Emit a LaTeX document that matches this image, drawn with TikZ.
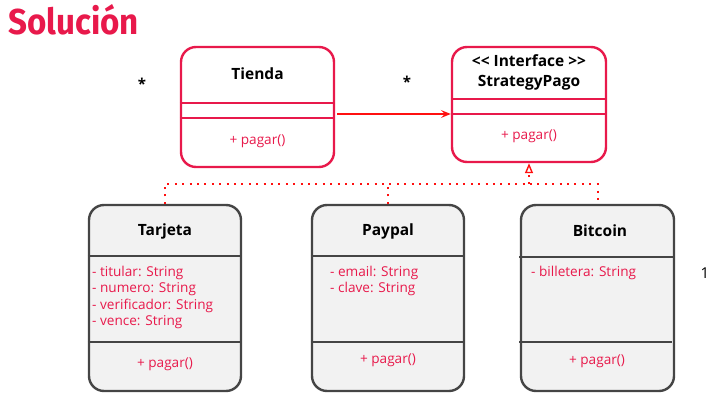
\documentclass[tikz,border=0pt]{standalone}
\usepackage{fontspec}
\usepackage{graphicx}
\setmainfont{Open Sans}
\newfontfamily\headfont{Fira Sans}
\usetikzlibrary{arrows.meta}
\definecolor{crimson}{HTML}{E8194B}
\definecolor{arrowred}{HTML}{FF1010}
\definecolor{boxgray}{HTML}{F2F2F2}
\definecolor{edgegray}{HTML}{454545}
\begin{document}
\begin{tikzpicture}[x=1pt,y=-1pt,
  redclass/.style={draw=crimson, line width=2.4pt, fill=white, rounded corners=15pt, inner sep=0pt},
  grayclass/.style={draw=edgegray, line width=2.4pt, fill=boxgray, rounded corners=15pt, inner sep=0pt},
  redsep/.style={draw=crimson, line width=1.6pt},
  graysep/.style={draw=edgegray, line width=1.6pt},
  classname/.style={font=\fontsize{15.5}{18}\selectfont\bfseries, text=black, inner sep=0pt},
  member/.style={font=\fontsize{13.6}{16.3}\selectfont, text=crimson, inner sep=0pt},
  memberlist/.style={member, anchor=north west, align=left},
  mult/.style={font=\fontsize{15}{16}\selectfont\bfseries, text=black, inner sep=0pt},
  dotline/.style={draw=arrowred, line width=2pt, dash pattern=on 2pt off 5.4pt},
]
\useasboundingbox (0,0) rectangle (720,399);

% heading
\node[anchor=west, inner sep=0pt, text=crimson] (heading) at (8,20)
  {\scalebox{0.92}[1]{\headfont\fontsize{36}{38}\selectfont\bfseries Solución}};

% context class and strategy interface
\node[redclass, minimum width=153pt, minimum height=120pt] (tienda) at (257.5,107) {};
\node[redclass, minimum width=154pt, minimum height=115pt] (strategy) at (529,104.5) {};

% concrete strategies
\node[grayclass, minimum width=152pt, minimum height=186pt] (tarjeta) at (165,298) {};
\node[grayclass, minimum width=152pt, minimum height=186pt] (paypal) at (388,298) {};
\node[grayclass, minimum width=153pt, minimum height=186pt] (bitcoin) at (597.5,298) {};

% compartments
\draw[redsep] (tienda.west |- 0,103) -- (tienda.east |- 0,103);
\draw[redsep] (tienda.west |- 0,118) -- (tienda.east |- 0,118);
\draw[redsep] (strategy.west |- 0,99) -- (strategy.east |- 0,99);
\draw[redsep] (strategy.west |- 0,114) -- (strategy.east |- 0,114);
\draw[graysep] (tarjeta.west |- 0,256) -- (tarjeta.east |- 0,256);
\draw[graysep] (tarjeta.west |- 0,342) -- (tarjeta.east |- 0,342);
\draw[graysep] (paypal.west |- 0,256) -- (paypal.east |- 0,256);
\draw[graysep] (paypal.west |- 0,342) -- (paypal.east |- 0,342);
\coordinate (bsepa) at (519,257);
\coordinate (bsepb) at (519,342);
\draw[graysep] (bsepa) -- (bitcoin.east |- bsepa);
\draw[graysep] (bsepb) -- ([xshift=-3pt]bitcoin.east |- bsepb);

% texts
\node[classname] (tiendaname) at (257.5,74) {Tienda};
\node[member] (tiendaop) at (257.5,141) {+ pagar()};
\node[classname, align=center, font=\fontsize{15.5}{20}\selectfont\bfseries] (strategyname) at (529,72) {<{}< Interface >{}>\\StrategyPago};
\node[member] (strategyop) at (529,136) {+ pagar()};

\node[classname] (tarjetaname) at (165,231) {Tarjeta};
\node[memberlist] (tarjetaattr) at (92,266) {- titular: String\\- numero: String\\- verificador: String\\- vence: String};
\node[member] (tarjetaop) at (165,364) {+ pagar()};

\node[classname] (paypalname) at (388,231) {Paypal};
\node[memberlist] (paypalattr) at (330,266) {- email: String\\- clave: String};
\node[member] (paypalop) at (388,360) {+ pagar()};

\node[classname] (bitcoinname) at (600,231) {Bitcoin};
\node[memberlist] (bitcoinattr) at (531,266) {- billetera: String};
\node[member] (bitcoinop) at (597,361) {+ pagar()};

% multiplicities
\node[mult] (multa) at (142,84) {*};
\node[mult] (multb) at (407,82) {*};
\node[inner sep=0pt, font=\fontsize{15}{16}\selectfont] (multc) at (705,273) {1};

% association
\draw[arrowred, line width=1.5pt, -{Stealth[length=10pt, width=8pt, inset=4pt]}]
  ([xshift=2pt]tienda.east |- 0,114) -- (strategy.west |- 0,114);

% realization
\coordinate (join) at (529,184);
\draw[dotline] (tarjeta.north) |- (bitcoin.north |- join) -- (bitcoin.north);
\draw[dotline] (paypal.north) -- (paypal.north |- join);
\draw[dotline, -{Triangle[open, length=10pt, width=8pt, line width=1.4pt]}] (join) -- (strategy.south);
\end{tikzpicture}
\end{document}
